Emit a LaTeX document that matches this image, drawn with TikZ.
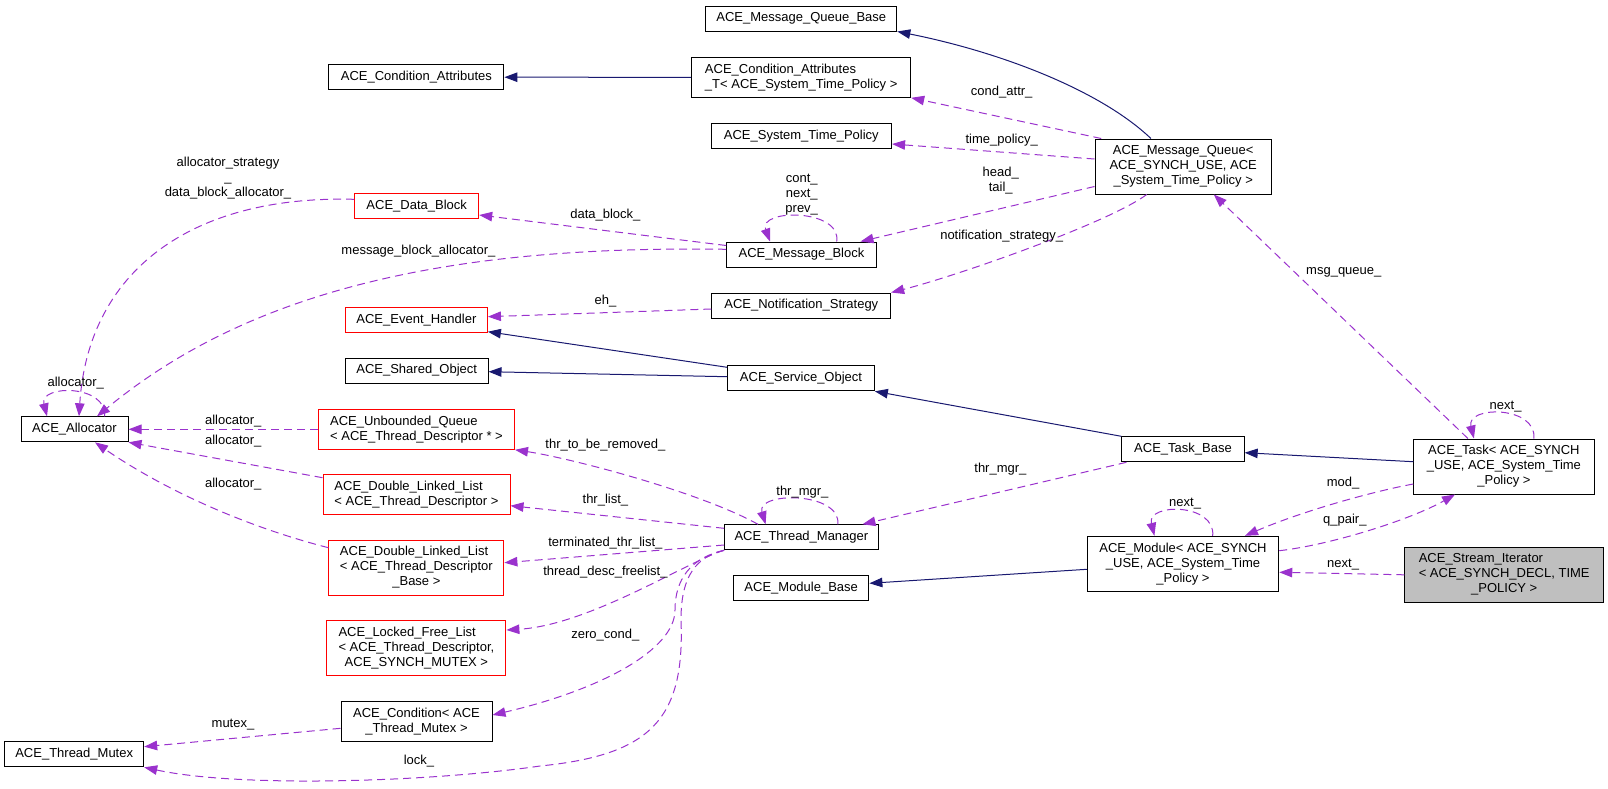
\documentclass[tikz,border=0pt]{standalone}
\usepackage{fontspec}
\setmainfont{Liberation Sans}
\usepackage{tikz}
\usetikzlibrary{arrows.meta}

\definecolor{midblue}{HTML}{191970}
\definecolor{usepurple}{HTML}{9A32CD}
\definecolor{hidred}{HTML}{FF0000}
\definecolor{focusgray}{HTML}{BFBFBF}

\begin{document}
\begin{tikzpicture}[x=1pt, y=-1pt,
  cls/.style={draw=black, line width=1pt, inner sep=0pt, minimum height=25pt, font=\fontsize{13}{15}\selectfont},
  hid/.style={cls, draw=hidred},
  focusbox/.style={cls, fill=focusgray},
  lbl/.style={inner sep=0pt, align=center, font=\fontsize{13}{15}\selectfont},
  inh/.style={draw=midblue, line width=1pt, -{Triangle[length=13pt,width=9.5pt]}},
  uses/.style={draw=usepurple, line width=1pt, dash pattern=on 8pt off 5pt, -{Triangle[length=13pt,width=9.5pt]}}]
 \useasboundingbox (0,0) rectangle (1608,788);

 %col1
 \node[cls, minimum width=107pt] (alloc) at (74.5,429.3) {ACE\_Allocator};
 \node[cls, minimum width=139pt] (thrmutex) at (74.2,754.3) {ACE\_Thread\_Mutex};

 %col2
 \node[cls, minimum width=175pt] (condattr) at (416.4,77.2) {ACE\_Condition\_Attributes};
 \node[hid, minimum width=124pt] (datablock) at (416.7,206.3) {ACE\_Data\_Block};
 \node[hid, minimum width=142pt] (evhandler) at (416.4,320) {ACE\_Event\_Handler};
 \node[cls, minimum width=142.6pt] (shared) at (416.7,370.5) {ACE\_Shared\_Object};
 \node[hid, minimum width=196pt, minimum height=40pt, align=left] (unbq) at (416.5,429.3) {ACE\_Unbounded\_Queue\\< ACE\_Thread\_Descriptor * >};
 \node[hid, minimum width=187pt, minimum height=40pt, align=left] (dll) at (416.5,494.7) {ACE\_Double\_Linked\_List\\< ACE\_Thread\_Descriptor >};
 \node[hid, minimum width=175pt, minimum height=55pt] (dllbase) at (416.4,567.8) {\begin{tabular}{@{}l@{}}ACE\_Double\_Linked\_List\\< ACE\_Thread\_Descriptor\\\multicolumn{1}{@{}c@{}}{\_Base >}\end{tabular}};
 \node[hid, minimum width=179pt, minimum height=55pt] (lockfree) at (416.4,648) {\begin{tabular}{@{}l@{}}ACE\_Locked\_Free\_List\\< ACE\_Thread\_Descriptor,\\\multicolumn{1}{@{}c@{}}{ACE\_SYNCH\_MUTEX >}\end{tabular}};
 \node[cls, minimum width=151pt, minimum height=40pt, align=center] (cond) at (416.5,721.3) {ACE\_Condition< ACE\\\_Thread\_Mutex >};

 %col3
 \node[cls, minimum width=191pt] (mqbase) at (801.3,18.5) {ACE\_Message\_Queue\_Base};
 \node[cls, minimum width=219pt, minimum height=40pt, align=left] (condattrt) at (801.2,77.3) {ACE\_Condition\_Attributes\\\_T< ACE\_System\_Time\_Policy >};
 \node[cls, minimum width=180.5pt] (systime) at (801.3,136) {ACE\_System\_Time\_Policy};
 \node[cls, minimum width=149.6pt] (msgblock) at (801.5,254.5) {ACE\_Message\_Block};
 \node[cls, minimum width=178.7pt] (notif) at (801.3,305.5) {ACE\_Notification\_Strategy};
 \node[cls, minimum width=146.7pt] (svcobj) at (801,378.3) {ACE\_Service\_Object};
 \node[cls, minimum width=153.6pt] (thrmgr) at (801.4,537.3) {ACE\_Thread\_Manager};
 \node[cls, minimum width=135.4pt] (modbase) at (801.2,588) {ACE\_Module\_Base};

 %col4
 \node[cls, minimum width=176.4pt, minimum height=55pt, align=center] (mq) at (1183.2,166.5) {ACE\_Message\_Queue<\\ ACE\_SYNCH\_USE, ACE\\\_System\_Time\_Policy >};
 \node[cls, minimum width=122.3pt] (taskbase) at (1183,449.3) {ACE\_Task\_Base};
 \node[cls, minimum width=191.5pt, minimum height=55pt, align=center] (module) at (1183,563.8) {ACE\_Module< ACE\_SYNCH\\\_USE, ACE\_System\_Time\\\_Policy >};

 %col5
 \node[cls, minimum width=180.3pt, minimum height=55pt, align=center] (task) at (1503.9,466.5) {ACE\_Task< ACE\_SYNCH\\\_USE, ACE\_System\_Time\\\_Policy >};
 \node[focusbox, minimum width=198.5pt, minimum height=55pt] (iter) at (1504.2,574.8) {\begin{tabular}{@{}l@{}}ACE\_Stream\_Iterator\\< ACE\_SYNCH\_DECL, TIME\\\multicolumn{1}{@{}c@{}}{\_POLICY >}\end{tabular}};

 %inheritance
 \draw[inh] ([xshift=-32.3pt]mq.north) .. controls (1100,90) and (1000,52) .. (mqbase.south east);
 \draw[inh] (condattrt.west) -- (condattr.east);
 \draw[inh] ([yshift=11pt]svcobj.west) -- ([yshift=1.3pt]evhandler.south east);
 \draw[inh] ([yshift=1.6pt]svcobj.west) -- ([yshift=-1.2pt]shared.east);
 \draw[inh] (taskbase.north west) -- (svcobj.south east);
 \draw[inh] ([yshift=4.8pt]task.west) -- ([yshift=-3.4pt]taskbase.east);
 \draw[inh] ([yshift=-5.5pt]module.west) -- ([yshift=4.7pt]modbase.east);

 %members of the queue
 \draw[uses] ([xshift=6.7pt]mq.north west) -- (condattrt.south east);
 \draw[uses] ([yshift=7.5pt]mq.west) -- ([yshift=-8pt]systime.east);
 \draw[uses] ([yshift=-20pt]mq.west) -- ([xshift=-16.3pt]msgblock.north east);
 \draw[uses] ([xshift=-36.5pt]mq.south) .. controls (1110,222) and (960,275) .. (notif.north east);

 %message block
 \draw[uses] ([yshift=9pt]msgblock.west) -- ([yshift=-8.7pt]datablock.east);
 \draw[uses] ([xshift=35.2pt]msgblock.north) .. controls +(5,-33) and +(-12,-33) .. ([xshift=-31.5pt]msgblock.north);
 \draw[uses] ([yshift=5.2pt]msgblock.west) .. controls (450,245) and (250,290) .. ([xshift=22.5pt]alloc.north);
 \draw[uses] ([yshift=7pt]datablock.west) .. controls (190,195) and (88,272) .. ([xshift=4.5pt]alloc.north);
 \draw[uses] ([xshift=30pt]alloc.north) .. controls +(3,-32) and +(-8,-32) .. ([xshift=-27.5pt]alloc.north);
 \draw[uses] ([yshift=-3.5pt]notif.west) -- ([yshift=3.3pt]evhandler.east);

 %task
 \draw[uses] ([xshift=-36pt]task.north) -- ([xshift=30.6pt]mq.south);
 \draw[uses] ([xshift=30pt]task.north) .. controls +(3,-33) and +(-8,-33) .. ([xshift=-30pt]task.north);
 \draw[uses] ([xshift=-56.6pt]taskbase.south) -- ([xshift=-16.2pt]thrmgr.north east);
 \draw[uses] ([yshift=-17.5pt]task.west) .. controls (1370,492) and (1300,512) .. ([xshift=62pt]module.north);
 \draw[uses] ([yshift=13.1pt]module.east) .. controls (1330,545) and (1410,520) .. ([xshift=-48.9pt]task.south);
 \draw[uses] ([xshift=29.7pt]module.north) .. controls +(3,-33) and +(-8,-33) .. ([xshift=-28.6pt]module.north);
 \draw[uses] (iter.west) -- ([yshift=-8.5pt]module.east);

 %thread manager
 \draw[uses] ([xshift=36.5pt]thrmgr.north) .. controls +(3,-33) and +(-10,-33) .. ([xshift=-35.8pt]thrmgr.north);
 \draw[uses] ([xshift=-43.4pt]thrmgr.north) .. controls (700,492) and (570,458) .. (unbq.south east);
 \draw[uses] ([yshift=9pt]thrmgr.west) -- ([yshift=-11pt]dll.east);
 \draw[uses] ([yshift=-7.7pt]thrmgr.west) -- ([yshift=5.1pt]dllbase.east);
 \draw[uses] (thrmgr.south west) .. controls (690,560) and (590,625) .. ([yshift=18pt]lockfree.east);
 \draw[uses] (thrmgr.south west) .. controls (690,558) and (675,580) .. (675,610) .. controls (675,650) and (600,690) .. ([yshift=6.3pt]cond.east);
 \draw[uses] (thrmgr.south west) .. controls (690,558) and (681,585) .. (681,620) .. controls (685,720) and (650,755) .. (540,766) .. controls (430,782) and (240,788) .. (thrmutex.south east);
 \draw[uses] ([yshift=-7pt]cond.west) -- ([yshift=7.6pt]thrmutex.east);

 %allocators
 \draw[uses] (unbq.west) -- (alloc.east);
 \draw[uses] ([yshift=17pt]dll.west) -- (alloc.south east);
 \draw[uses] ([yshift=20.1pt]dllbase.west) .. controls (240,525) and (160,487) .. ([xshift=20.5pt]alloc.south);

 %labels
 \node[lbl] (lstrategy) at (228,178.5) {allocator\_strategy\\\_\\data\_block\_allocator\_};
 \node[lbl] (lmsgalloc) at (418.4,251) {message\_block\_allocator\_};
 \node[lbl] (lcondattr) at (1001.7,91.7) {cond\_attr\_};
 \node[lbl] (ltimepol) at (1001.7,140) {time\_policy\_};
 \node[lbl] (lheadtail) at (1000.7,180.2) {head\_\\tail\_};
 \node[lbl] (lcont) at (801.7,194.7) {cont\_\\next\_\\prev\_};
 \node[lbl] (ldatablock) at (605.4,215) {data\_block\_};
 \node[lbl] (lnotif) at (1001.7,236) {notification\_strategy\_};
 \node[lbl] (leh) at (605.4,301) {eh\_};
 \node[lbl] (lmsgqueue) at (1343.8,272) {msg\_queue\_};
 \node[lbl] (lallocself) at (75.8,383.3) {allocator\_};
 \node[lbl] (lalloc1) at (233.3,420.7) {allocator\_};
 \node[lbl] (lalloc2) at (233.3,440.7) {allocator\_};
 \node[lbl] (lalloc3) at (233.3,483.7) {allocator\_};
 \node[lbl] (lmutex) at (233,724.3) {mutex\_};
 \node[lbl] (llock) at (419,760.7) {lock\_};
 \node[lbl] (lremoved) at (605.4,444.7) {thr\_to\_be\_removed\_};
 \node[lbl] (lthrlist) at (605.4,500) {thr\_list\_};
 \node[lbl] (lterm) at (605.4,543.3) {terminated\_thr\_list\_};
 \node[lbl] (lfreelist) at (605.4,571.7) {thread\_desc\_freelist\_};
 \node[lbl] (lzero) at (605.4,635) {zero\_cond\_};
 \node[lbl] (lthrmgrself) at (802.4,491.7) {thr\_mgr\_};
 \node[lbl] (lthrmgr) at (1000.4,469) {thr\_mgr\_};
 \node[lbl] (ltasknext) at (1505.6,406.7) {next\_};
 \node[lbl] (lmod) at (1343.1,483.3) {mod\_};
 \node[lbl] (lqpair) at (1344.8,520) {q\_pair\_};
 \node[lbl] (lmodnext) at (1185.1,503.3) {next\_};
 \node[lbl] (liternext) at (1343.1,565) {next\_};
\end{tikzpicture}
\end{document}
